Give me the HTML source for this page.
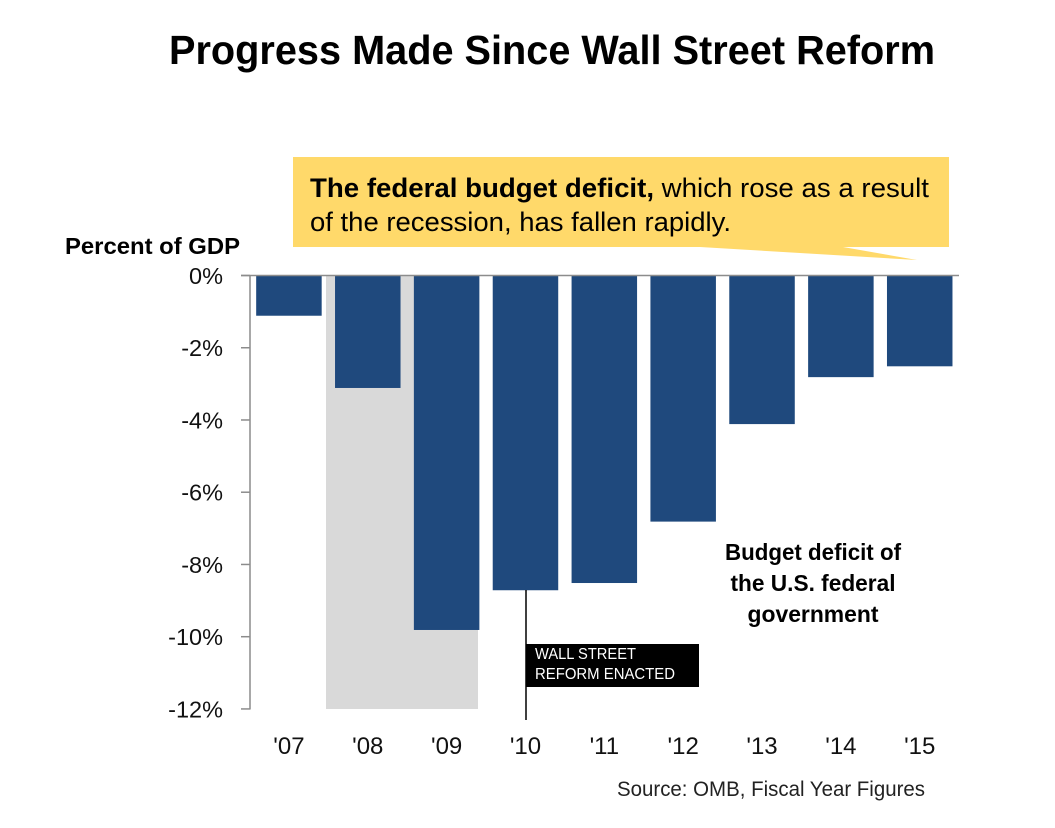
<!DOCTYPE html>
<html lang="en">
<head>
<meta charset="utf-8">
<title>Progress Made Since Wall Street Reform</title>
<style>
html,body{margin:0;padding:0;background:#fff;}
svg{display:block;font-family:"Liberation Sans","DejaVu Sans",sans-serif;}
</style>
</head>
<body>
<svg id="chart" width="1055" height="828" viewBox="0 0 1055 828" xmlns="http://www.w3.org/2000/svg">
  <rect width="1055" height="828" fill="#ffffff"/>
  <text x="169" y="64" font-size="41" font-weight="bold" fill="#000" textLength="766" lengthAdjust="spacingAndGlyphs">Progress Made Since Wall Street Reform</text>

  <path d="M293 157H949V247H843L917 260L700 247H293Z" fill="#ffd96a"/>
  <text x="310" y="197" font-size="27" fill="#000" textLength="619" lengthAdjust="spacingAndGlyphs"><tspan font-weight="bold">The federal budget deficit,</tspan> which rose as a result</text>
  <text x="310" y="231" font-size="27" fill="#000" textLength="421" lengthAdjust="spacingAndGlyphs">of the recession, has fallen rapidly.</text>

  <text x="65" y="254" font-size="23.5" font-weight="bold" fill="#000" textLength="175" lengthAdjust="spacingAndGlyphs">Percent of GDP</text>

  <rect x="326" y="275.5" width="152" height="433.5" fill="#d9d9d9"/>
  <g id="bars"></g>
  <g id="axes"></g>

  <line x1="526" y1="590" x2="526" y2="720" stroke="#000" stroke-width="1.5"/>
  <rect x="526" y="644" width="173" height="43" fill="#000"/>
  <text x="535" y="659" font-size="15.5" fill="#fff" textLength="101" lengthAdjust="spacingAndGlyphs">WALL STREET</text>
  <text x="535" y="679" font-size="15.5" fill="#fff" textLength="140" lengthAdjust="spacingAndGlyphs">REFORM ENACTED</text>

  <text x="813" y="560" font-size="23.5" font-weight="bold" fill="#000" text-anchor="middle" textLength="176" lengthAdjust="spacingAndGlyphs">Budget deficit of</text>
  <text x="813" y="591" font-size="23.5" font-weight="bold" fill="#000" text-anchor="middle" textLength="165" lengthAdjust="spacingAndGlyphs">the U.S. federal</text>
  <text x="813" y="622" font-size="23.5" font-weight="bold" fill="#000" text-anchor="middle" textLength="131" lengthAdjust="spacingAndGlyphs">government</text>

  <text x="617" y="796" font-size="21" fill="#222" textLength="308" lengthAdjust="spacingAndGlyphs">Source: OMB, Fiscal Year Figures</text>
</svg>
<script>
const categories = ["'07", "'08", "'09", "'10", "'11", "'12", "'13", "'14", "'15"];
const deficitValues = [-1.1, -3.1, -9.8, -8.7, -8.5, -6.8, -4.1, -2.8, -2.5];
const tickValues = [0, -2, -4, -6, -8, -10, -12];
const tickLabels = ["0%", "-2%", "-4%", "-6%", "-8%", "-10%", "-12%"];

const NS = 'http://www.w3.org/2000/svg';
const y0 = 276, pxPerUnit = 36.12, bandStart = 249.5, bandWidth = 78.85, barWidth = 65.5;
function yScale(v) { return y0 - v * pxPerUnit; }
function xCenter(i) { return bandStart + bandWidth * (i + 0.5); }
function make(parent, tag, attrs, text) {
  const el = document.createElementNS(NS, tag);
  for (const k in attrs) el.setAttribute(k, attrs[k]);
  if (text !== undefined) el.textContent = text;
  parent.appendChild(el);
  return el;
}
const barsG = document.getElementById('bars');
const axesG = document.getElementById('axes');

deficitValues.forEach(function (v, i) {
  const r = make(barsG, 'rect', {
    x: xCenter(i) - barWidth / 2,
    y: Math.min(yScale(0), yScale(v)),
    width: barWidth,
    height: Math.abs(yScale(v) - yScale(0)),
    fill: '#1f497d'
  });
  
  
});

const yAxis = make(axesG, 'line', { x1: 250, x2: 250, y1: yScale(0), y2: yScale(-12), stroke: '#8c8c8c', 'stroke-width': 1.5 });



const zeroLine = make(axesG, 'line', { x1: 241, x2: 959, y1: yScale(0) - 0.5, y2: yScale(0) - 0.5, stroke: '#8c8c8c', 'stroke-width': 1.5 });



tickValues.forEach(function (v, i) {
  const t = make(axesG, 'line', { x1: 241, x2: 250, y1: yScale(v) - 0.5, y2: yScale(v) - 0.5, stroke: '#8c8c8c', 'stroke-width': 1.5 });
  
  
  const l = make(axesG, 'text', { x: 223, y: yScale(v) + 8, 'font-size': 23.5, 'text-anchor': 'end', fill: '#111' }, tickLabels[i]);
  
  
});

categories.forEach(function (c, i) {
  const l = make(axesG, 'text', { x: xCenter(i), y: 754, 'font-size': 24, 'text-anchor': 'middle', fill: '#111' }, c);
  
  
});
</script>
</body>
</html>
